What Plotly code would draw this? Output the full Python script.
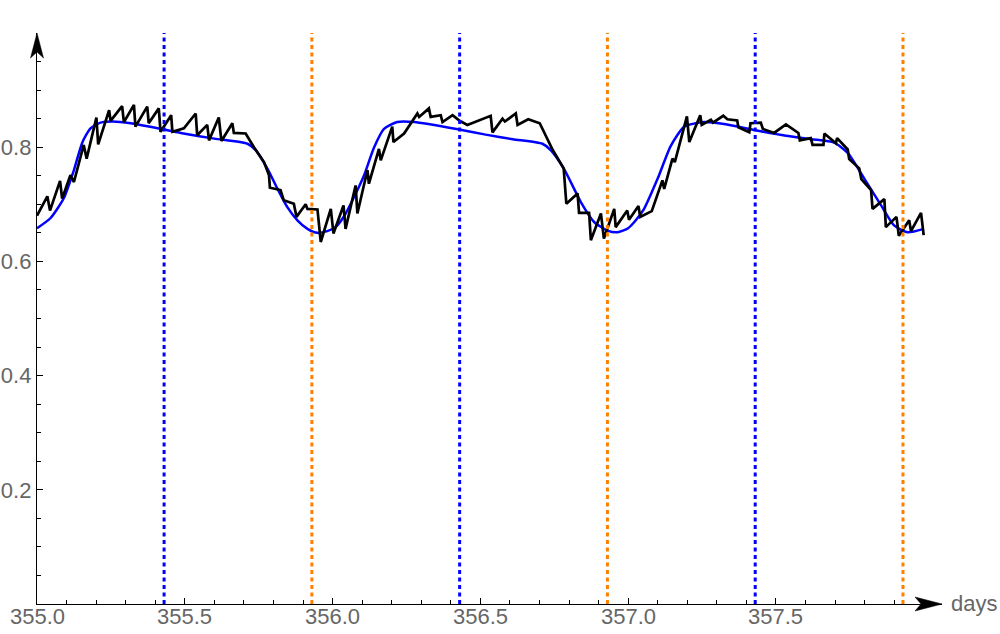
import plotly.graph_objects as go

# Observed (noisy) series
obs_x = [355.000, 355.035, 355.044, 355.078, 355.085, 355.113, 355.125, 355.158, 355.168, 355.201,
         355.207, 355.244, 355.249, 355.288, 355.294, 355.328, 355.333, 355.373, 355.378, 355.412,
         355.418, 355.454, 355.458, 355.497, 355.537, 355.542, 355.576, 355.582, 355.615, 355.624,
         355.661, 355.666, 355.706, 355.734, 355.768, 355.785, 355.788, 355.824, 355.835, 355.869,
         355.878, 355.909, 355.915, 355.949, 355.960, 355.994, 356.003, 356.037, 356.044, 356.078,
         356.084, 356.118, 356.123, 356.157, 356.163, 356.202, 356.206, 356.242, 356.287, 356.293,
         356.326, 356.332, 356.366, 356.372, 356.406, 356.428, 356.456, 356.496, 356.535, 356.541,
         356.575, 356.583, 356.620, 356.626, 356.662, 356.701, 356.745, 356.782, 356.791, 356.829,
         356.834, 356.868, 356.874, 356.908, 356.918, 356.953, 356.958, 356.997, 357.003, 357.035,
         357.041, 357.080, 357.116, 357.122, 357.150, 357.158, 357.173, 357.199, 357.207, 357.244,
         357.249, 357.280, 357.287, 357.322, 357.336, 357.369, 357.373, 357.410, 357.414, 357.449,
         357.456, 357.494, 357.534, 357.576, 357.581, 357.618, 357.624, 357.661, 357.664, 357.703,
         357.707, 357.743, 357.748, 357.782, 357.789, 357.822, 357.827, 357.867, 357.872, 357.908,
         357.916, 357.951, 357.957, 357.991, 358.000]
obs_y = [0.680, 0.714, 0.689, 0.741, 0.710, 0.751, 0.739, 0.804, 0.780, 0.852,
         0.805, 0.865, 0.846, 0.872, 0.844, 0.874, 0.836, 0.871, 0.842, 0.868,
         0.827, 0.856, 0.827, 0.833, 0.859, 0.821, 0.839, 0.812, 0.852, 0.811,
         0.842, 0.825, 0.824, 0.800, 0.774, 0.751, 0.729, 0.725, 0.707, 0.701,
         0.678, 0.700, 0.692, 0.691, 0.634, 0.692, 0.649, 0.698, 0.657, 0.733,
         0.684, 0.760, 0.736, 0.797, 0.777, 0.836, 0.809, 0.824, 0.859, 0.853,
         0.868, 0.853, 0.856, 0.844, 0.856, 0.847, 0.839, 0.847, 0.855, 0.826,
         0.850, 0.845, 0.859, 0.839, 0.849, 0.842, 0.795, 0.763, 0.701, 0.719,
         0.685, 0.685, 0.637, 0.684, 0.640, 0.692, 0.660, 0.689, 0.673, 0.697,
         0.678, 0.688, 0.742, 0.727, 0.780, 0.774, 0.804, 0.854, 0.809, 0.856,
         0.839, 0.848, 0.843, 0.855, 0.849, 0.847, 0.835, 0.826, 0.842, 0.843,
         0.832, 0.825, 0.840, 0.825, 0.812, 0.816, 0.804, 0.804, 0.824, 0.807,
         0.816, 0.796, 0.779, 0.763, 0.744, 0.725, 0.692, 0.709, 0.660, 0.678,
         0.645, 0.672, 0.653, 0.685, 0.646]

# Model (smooth) series
model_x = [355.000, 355.046, 355.091, 355.125, 355.153, 355.181, 355.215, 355.255, 355.317, 355.429,
           355.496, 355.600, 355.712, 355.740, 355.779, 355.813, 355.847, 355.881, 355.915, 355.949,
           355.982, 356.010, 356.040, 356.072, 356.106, 356.140, 356.174, 356.219, 356.276, 356.428,
           356.518, 356.610, 356.710, 356.738, 356.783, 356.840, 356.885, 356.930, 356.964, 357.000,
           357.026, 357.054, 357.100, 357.144, 357.190, 357.257, 357.330, 357.427, 357.534, 357.620,
           357.697, 357.743, 357.799, 357.856, 357.900, 357.946, 358.000]
model_y = [0.658, 0.676, 0.711, 0.760, 0.808, 0.833, 0.843, 0.845, 0.842, 0.831,
           0.824, 0.815, 0.806, 0.795, 0.763, 0.728, 0.695, 0.672, 0.657, 0.650,
           0.653, 0.660, 0.680, 0.712, 0.750, 0.799, 0.832, 0.844, 0.844, 0.831,
           0.822, 0.814, 0.806, 0.795, 0.762, 0.704, 0.669, 0.654, 0.651, 0.658,
           0.672, 0.692, 0.745, 0.802, 0.836, 0.844, 0.840, 0.830, 0.820, 0.814,
           0.808, 0.790, 0.745, 0.698, 0.663, 0.651, 0.657]

# Marker lines
blue_lines = [355.43, 356.43, 357.43]
orange_lines = [355.93, 356.93, 357.93]

x_ticks = [355.0, 355.5, 356.0, 356.5, 357.0, 357.5]
x_minor = [355.1, 355.2, 355.3, 355.4, 355.6, 355.7, 355.8, 355.9, 356.1, 356.2, 356.3, 356.4,
           356.6, 356.7, 356.8, 356.9, 357.1, 357.2, 357.3, 357.4, 357.6, 357.7, 357.8, 357.9]
y_ticks = [0.2, 0.4, 0.6, 0.8]
y_minor = [0.05, 0.1, 0.15, 0.25, 0.3, 0.35, 0.45, 0.5, 0.55, 0.65, 0.7, 0.75, 0.85, 0.9, 0.95]

X_END = 358.062
Y_END = 1.0
GRAY = "#666666"
FONT = "Arial, Liberation Sans, sans-serif"

fig = go.Figure()
fig.add_trace(go.Scatter(x=model_x, y=model_y, mode="lines",
                         line=dict(color="#0000ff", width=2.5, shape="spline", smoothing=0.6),
                         hoverinfo="skip", showlegend=False))
fig.add_trace(go.Scatter(x=obs_x, y=obs_y, mode="lines",
                         line=dict(color="#000000", width=2.7),
                         hoverinfo="skip", showlegend=False))

shapes = []
for v in blue_lines:
    shapes.append(dict(type="line", xref="x", yref="y", x0=v, x1=v, y0=0, y1=Y_END,
                       line=dict(color="#0000ff", width=3, dash="4px,3.5px"), layer="above"))
for v in orange_lines:
    shapes.append(dict(type="line", xref="x", yref="y", x0=v, x1=v, y0=0, y1=Y_END,
                       line=dict(color="#ff8000", width=3, dash="4px,3.5px"), layer="above"))

# arrowheads (paper-referenced so they are not clipped)
shapes.append(dict(type="path", xref="paper", yref="paper", xsizemode="pixel", ysizemode="pixel",
                   xanchor=1, yanchor=0, path="M 0 0 L -27 7 L -21 0 L -27 -7 Z",
                   fillcolor="black", line=dict(color="black", width=0.5), layer="above"))
shapes.append(dict(type="path", xref="paper", yref="paper", xsizemode="pixel", ysizemode="pixel",
                   xanchor=0, yanchor=1, path="M 0 0 L 6.5 -25 L 0 -19 L -6.5 -25 Z",
                   fillcolor="black", line=dict(color="black", width=0.5), layer="above"))

annotations = [dict(x=X_END, y=0, xref="x", yref="y", text="days", showarrow=False,
                    xanchor="left", yanchor="middle", xshift=7, yshift=1,
                    font=dict(family=FONT, size=22, color=GRAY))]
for v in x_ticks:
    annotations.append(dict(x=v, y=0, xref="x", yref="y", text=f"{v:.1f}", showarrow=False,
                            xanchor="center", yanchor="middle", yshift=-12,
                            font=dict(family=FONT, size=22, color=GRAY)))

fig.update_layout(
    width=1000, height=634,
    margin=dict(l=37, r=58, t=33, b=30, pad=0),
    paper_bgcolor="white", plot_bgcolor="white",
    shapes=shapes,
    annotations=annotations,
    showlegend=False,
    xaxis=dict(range=[355.0, X_END], showgrid=False, zeroline=False,
               showline=True, linecolor="black", linewidth=1.3,
               tickmode="array", tickvals=x_ticks, showticklabels=False,
               ticks="inside", ticklen=6, tickcolor="black", tickwidth=1,
               minor=dict(tickmode="array", tickvals=x_minor, ticks="inside", ticklen=3.5,
                          tickcolor="black", tickwidth=0.8),
               automargin=False, fixedrange=True),
    yaxis=dict(range=[0, Y_END], showgrid=False, zeroline=False,
               showline=True, linecolor="black", linewidth=1.3,
               tickmode="array", tickvals=y_ticks, ticktext=[f"{v:.1f}" for v in y_ticks],
               ticks="inside", ticklen=6, tickcolor="black", tickwidth=1,
               minor=dict(tickmode="array", tickvals=y_minor, ticks="inside", ticklen=3.5,
                          tickcolor="black", tickwidth=0.8),
               tickfont=dict(family=FONT, size=22, color=GRAY),
               automargin=False, fixedrange=True),
)

fig.write_html("out.html", config={"displayModeBar": False},
               post_script="document.body.style.margin='0';document.body.style.overflow='hidden';")
